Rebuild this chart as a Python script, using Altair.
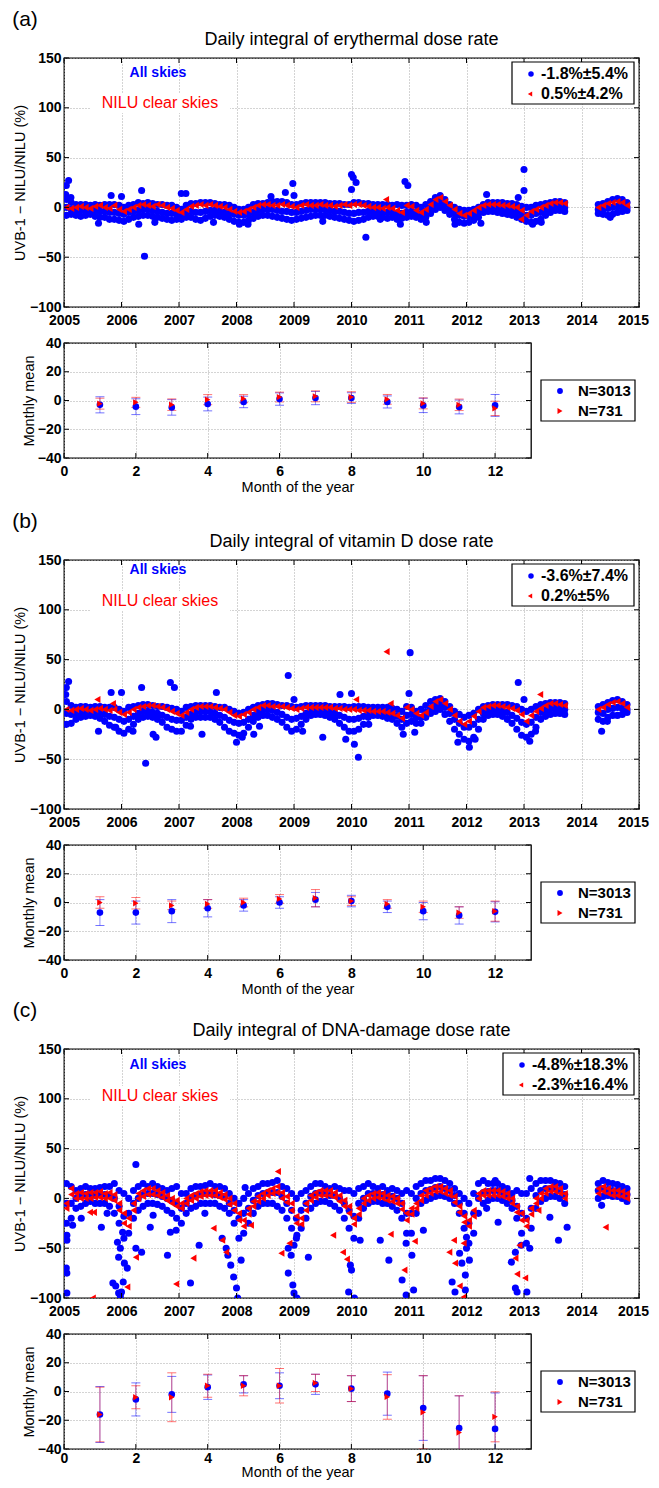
import altair as alt
import pandas as pd

FONT = "Liberation Sans"
BLUE = "#0000ff"
RED = "#ff0000"

YEAR_TICKS = list(range(2005, 2016))
MAIN_Y_TICKS = [-100, -50, 0, 50, 100, 150]
MONTH_TICKS = [0, 2, 4, 6, 8, 10, 12]
MON_Y_TICKS = [-40, -20, 0, 20, 40]
MONTHS = list(range(1, 13))

# monthly sample dates: Jan 2005 - Sep 2013, Apr 2014 - Oct 2014
SAMPLE_MONTHS = [(y, m) for y in range(2005, 2014) for m in range(1, 13)
                 if not (y == 2013 and m > 9)] + [(2014, m) for m in range(4, 11)]
DATES = [y + (m - 0.5) / 12 for y, m in SAMPLE_MONTHS]

# ---------------- panel (a) erythemal ----------------
A_BLUE_HI = [8, 5, 3, 3, 3, 2, 3, 2, 3, 3, 3, 2,
             0, 2, 3, 5, 4, 5, 4, 3, 3, 2, 2, 0,
             -2, 2, 4, 4, 5, 5, 5, 4, 3, 3, 2, 0,
             -2, -2, 0, 3, 4, 4, 5, 6, 6, 6, 5, 3,
             3, 4, 5, 5, 5, 5, 5, 4, 4, 4, 3, 3,
             5, 5, 4, 4, 3, 3, 3, 3, 2, 3, 2, 2,
             3, 2, 0, 3, 6, 10, 12, 8, 3, 0, -2, -3,
             -3, -2, 0, 3, 5, 5, 5, 5, 4, 4, 3, 1,
             0, 0, 2, 3, 4, 5, 6, 6, 5,
             3, 4, 6, 8, 9, 8, 5]
A_BLUE_MID = [0, -2, -3, -3, -3, -3, -3, -4, -4, -5, -5, -6,
              -7, -5, -4, -3, -2, -2, -3, -4, -5, -6, -6, -7,
              -7, -5, -4, -5, -5, -4, -3, -3, -4, -5, -6, -7,
              -8, -8, -7, -5, -3, -2, -2, -2, -3, -4, -4, -5,
              -5, -4, -3, -2, -2, -2, -2, -3, -4, -4, -5, -6,
              -6, -5, -5, -4, -4, -4, -5, -5, -5, -6, -6, -5,
              -4, -5, -7, -4, 0, 4, 6, 3, -2, -6, -8, -9,
              -9, -8, -5, -2, -1, 0, 0, -1, -2, -3, -4, -6,
              -8, -8, -6, -5, -3, -1, 0, 1, 0,
              -2, -2, -1, 0, 1, 1, 0]
A_BLUE_LO = [-8, -7, -8, -9, -8, -7, -9, -10, -10, -12, -12, -13,
             -14, -12, -10, -9, -8, -8, -9, -10, -11, -12, -13, -12,
             -12, -10, -10, -12, -13, -11, -9, -8, -9, -10, -12, -14,
             -15, -15, -13, -11, -9, -8, -8, -9, -10, -11, -12, -13,
             -12, -11, -10, -9, -8, -8, -8, -9, -10, -11, -12, -13,
             -14, -13, -12, -10, -9, -9, -10, -11, -10, -12, -11, -10,
             -9, -10, -12, -10, -6, -2, 0, -3, -7, -12, -15, -16,
             -15, -13, -10, -5, -4, -4, -5, -6, -7, -8, -10, -12,
             -14, -15, -14, -12, -8, -5, -3, -3, -4,
             -6, -7, -8, -7, -5, -4, -3]
A_RED = [0, -1, 0, 1, 0, -1, 1, 2, 0, -1, 2, -2,
         -4, -2, 0, 2, 3, 2, 1, 3, 2, 0, -1, -3,
         -5, -2, 1, 2, 3, 2, 3, 2, 1, 0, -2, -4,
         -5, -4, -2, 0, 2, 3, 3, 2, 2, 3, 2, 1,
         0, 2, 3, 2, 2, 3, 2, 2, 1, 2, 3, 2,
         3, 3, 2, 1, 0, 0, -1, 0, -1, -3, -5, 2,
         1, -3, -5, -2, 3, 8, 10, 6, 2, -2, -6, -8,
         -6, -3, 0, 2, 3, 3, 3, 2, 2, 1, 0, -3,
         -8, -4, -2, 0, 2, 4, 5, 5, 4,
         0, 2, 4, 5, 6, 5, 2]
A_BLUE_OUT = [(2005.04, 22), (2005.08, 27), (2005.03, 13), (2005.12, 10), (2005.6, -16),
              (2005.82, 12), (2006.0, 11), (2006.35, 17), (2006.4, -49), (2006.3, -17),
              (2006.58, -15), (2007.04, 14), (2007.12, 14), (2007.6, -15), (2008.05, -17),
              (2008.2, -17), (2008.6, 11), (2008.85, 15), (2008.98, 24), (2009.0, 12),
              (2009.5, -14), (2010.0, 33), (2010.03, 30), (2010.08, 25), (2010.0, 18),
              (2010.25, -30), (2010.5, -12), (2010.85, -17), (2010.93, 26), (2010.98, 22),
              (2011.3, -15), (2011.8, -17), (2012.25, -16), (2012.35, 13), (2012.9, 10),
              (2013.0, 38), (2013.0, 17), (2013.15, -17), (2013.3, -15), (2014.5, -10)]
A_RED_OUT = [(2010.6, 8), (2012.95, -12)]
A_MON_B = [-3, -4.3, -4.8, -2.4, -1, 1, 1.7, 1.7, -1, -3.4, -4.5, -3.4]
A_MON_B_ERR = [5.6, 5.5, 5.4, 4.8, 4, 4.3, 4.6, 3.7, 4.2, 5, 4.8, 7.6]
A_MON_R = [-2.2, -1.3, -2.9, 0.6, 1.3, 2.4, 2.9, 2.4, 0.8, -2, -3, -5.5]
A_MON_R_ERR = [3.8, 3.5, 4, 3.5, 2.8, 3.4, 3.8, 3.7, 3.4, 3.8, 4, 5]

# ---------------- panel (b) vitamin D ----------------
B_BLUE_HI = [8, 4, 2, 3, 3, 2, 3, 3, 2, 2, 2, 0,
             -2, 2, 3, 4, 5, 5, 4, 3, 3, 2, 1, 0,
             -2, 2, 3, 4, 4, 4, 4, 3, 2, 2, 0, -2,
             -4, -3, 0, 2, 4, 5, 6, 6, 5, 4, 4, 3,
             2, 3, 4, 4, 4, 4, 4, 3, 3, 3, 3, 2,
             3, 3, 3, 2, 2, 2, 2, 2, 1, 0, -2, 3,
             2, -2, 0, 4, 8, 10, 11, 8, 3, -2, -5, -8,
             -6, -4, 0, 3, 4, 5, 5, 5, 5, 4, 3, 0,
             -2, 0, 3, 5, 6, 7, 7, 7, 6,
             3, 5, 7, 9, 10, 8, 5]
B_BLUE_MID = [-4, -5, -4, -3, -2, -2, -2, -3, -5, -7, -8, -10,
              -12, -10, -7, -4, -2, -2, -3, -4, -6, -8, -10, -11,
              -11, -8, -5, -3, -2, -2, -2, -4, -6, -8, -11, -13,
              -14, -13, -10, -6, -3, -1, 0, -1, -3, -5, -8, -10,
              -9, -7, -4, -2, -1, -1, -2, -3, -4, -6, -8, -10,
              -10, -9, -7, -4, -3, -3, -3, -4, -5, -7, -10, -6,
              -5, -8, -8, -3, 1, 4, 5, 2, -4, -10, -14, -18,
              -18, -15, -10, -4, -1, 0, 0, -1, -3, -6, -9, -13,
              -15, -13, -8, -3, -1, 1, 1, 1, 0,
              -3, -4, 0, 1, 2, 1, 0]
B_BLUE_LO = [-15, -14, -10, -8, -7, -6, -7, -9, -12, -16, -18, -22,
             -24, -20, -15, -10, -8, -7, -8, -10, -13, -18, -20, -22,
             -22, -16, -10, -8, -8, -8, -8, -10, -13, -18, -22, -24,
             -26, -24, -18, -12, -8, -6, -6, -8, -10, -13, -18, -22,
             -20, -15, -10, -6, -5, -5, -6, -8, -10, -14, -18, -22,
             -22, -20, -15, -8, -6, -6, -7, -9, -10, -14, -18, -14,
             -12, -14, -14, -8, -4, -2, 0, -5, -12, -20, -25, -30,
             -32, -28, -20, -10, -6, -5, -5, -7, -10, -14, -20, -26,
             -28, -25, -18, -10, -7, -5, -4, -4, -5,
             -10, -12, -8, -6, -6, -5, -3]
B_RED = [0, -1, 0, 1, 0, -1, 0, 1, 0, -1, 0, -3,
         -5, -3, 0, 2, 3, 4, 4, 3, 2, 0, -2, -4,
         -6, -3, 0, 2, 3, 3, 3, 2, 1, 0, -3, -6,
         -7, -5, -3, 0, 2, 4, 4, 3, 3, 3, 2, 1,
         0, 1, 2, 2, 2, 2, 2, 2, 1, 1, 0, 0,
         0, -1, -1, -1, -2, -2, -2, -3, -4, -6, -9, 2,
         0, -4, -6, -3, 3, 8, 10, 6, 0, -6, -12, -15,
         -12, -7, -2, 2, 3, 4, 4, 3, 2, 1, -1, -5,
         -12, -6, -2, 1, 4, 6, 6, 5, 4,
         0, 2, 5, 7, 8, 6, 2]
B_BLUE_OUT = [(2005.04, 22), (2005.08, 28), (2005.03, 15), (2005.6, -22), (2005.82, 17),
              (2005.9, -18), (2006.0, 17), (2006.2, -22), (2006.35, 22), (2006.42, -54),
              (2006.6, -28), (2006.55, -25), (2006.85, 27), (2006.92, 22), (2007.2, -17),
              (2007.65, 17), (2007.4, -25), (2008.0, -33), (2008.1, -28), (2008.3, -25),
              (2008.4, -17), (2008.9, 34), (2009.0, 10), (2009.15, -22), (2009.5, -28),
              (2009.8, 15), (2010.0, 16), (2010.05, -35), (2010.12, -48), (2009.9, -30),
              (2010.3, -15), (2010.9, -25), (2011.02, 57), (2011.0, 16), (2011.1, -23),
              (2011.85, -33), (2012.05, -38), (2012.15, -30), (2012.9, 27), (2013.0, 10),
              (2013.1, -32), (2013.2, -22), (2014.35, -22), (2014.45, -12)]
B_RED_OUT = [(2005.58, 10), (2005.85, 6), (2010.08, 10), (2010.61, 58), (2010.68, 6),
             (2013.28, 15)]
B_MON_B = [-7, -7, -6, -4, -2, 0, 2, 1, -3, -6, -9, -6.5]
B_MON_B_ERR = [9, 8, 8, 6, 4, 4, 5, 4, 4, 6, 6, 7]
B_MON_R = [0, -0.5, -2, -1, 0, 2.5, 3, 1, -1, -3, -7, -6]
B_MON_R_ERR = [4, 4, 3, 3, 3, 3, 6, 3, 3, 4, 4, 7]

# ---------------- panel (c) DNA damage ----------------
C_BLUE_HI = [15, 12, 8, 10, 12, 10, 10, 11, 12, 12, 15, 8,
             5, 0, 8, 12, 15, 12, 15, 12, 10, 8, 10, 12,
             5, 5, 10, 12, 12, 13, 15, 12, 12, 10, 5, 0,
             -5, 0, 5, 10, 12, 15, 15, 16, 18, 12, 10, 5,
             0, 5, 8, 12, 15, 15, 12, 10, 12, 10, 8, 8,
             5, 10, 12, 15, 12, 10, 12, 8, 10, 8, 5, 8,
             5, 12, 15, 18, 18, 20, 20, 18, 15, 10, 5, 0,
             -5, 5, 15, 18, 15, 15, 15, 12, 10, 5, 8, 5,
             5, 10, 15, 18, 18, 18, 16, 15, 12,
             15, 18, 16, 15, 14, 12, 10]
C_BLUE_MID = [-5, -5, 0, 2, 4, 4, 3, 4, 4, 3, 0, -8,
              -18, -15, -5, 0, 4, 5, 5, 4, 2, 0, -2, -5,
              -10, -5, 0, 3, 4, 5, 5, 4, 3, 2, -5, -12,
              -20, -15, -10, -2, 3, 5, 6, 6, 6, 2, -5, -12,
              -20, -12, -5, 2, 5, 6, 5, 3, 3, 0, -5, -12,
              -18, -5, 0, 5, 5, 4, 4, 2, 2, 0, -5, -15,
              -15, 0, 5, 8, 9, 11, 12, 10, 8, 3, -5, -15,
              -25, -15, 0, 6, 7, 8, 8, 6, 3, -2, -8, -15,
              -20, -10, 3, 8, 10, 10, 10, 8, 4,
              8, 10, 9, 8, 8, 6, 4]
C_BLUE_LO = [-25, -20, -10, -8, -5, -3, -5, -5, -5, -8, -15, -25,
             -40, -35, -20, -12, -8, -5, -5, -6, -8, -12, -15, -20,
             -25, -15, -10, -8, -5, -5, -5, -5, -8, -10, -15, -25,
             -40, -35, -25, -15, -8, -5, -5, -5, -8, -12, -20, -30,
             -40, -30, -20, -10, -5, -3, -3, -5, -8, -12, -20, -30,
             -40, -20, -10, -5, -3, -3, -5, -5, -8, -12, -20, -35,
             -35, -15, -5, -2, 0, 2, 3, 2, 0, -5, -15, -30,
             -45, -35, -15, -5, -2, 0, 0, -2, -5, -10, -20, -35,
             -45, -30, -10, -3, 0, 2, 2, 0, -5,
             0, 2, 3, 2, 2, 0, -3]
C_RED = [-5, 10, 5, 6, 5, 6, 6, 7, 5, 6, 4, -5,
         -15, -20, -5, 5, 8, 10, 10, 8, 6, 3, 0, -2,
         -5, 0, 3, 5, 7, 8, 8, 8, 6, 4, 0, -5,
         -15, -22, -10, -3, 2, 5, 8, 10, 12, 6, 2, -5,
         -18, -20, -5, 3, 6, 8, 8, 8, 6, 3, -2, -8,
         -20, -10, 0, 3, 5, 6, 5, 3, 2, 0, -5, -15,
         -10, -5, 3, 8, 10, 12, 12, 10, 8, 2, -8, -18,
         -22, -12, 5, 8, 8, 8, 8, 7, 5, 0, -8, -15,
         -22, -10, 0, 5, 10, 12, 12, 10, 5,
         10, 12, 10, 8, 8, 7, 5]
C_RED2 = [-10, 4, 0, 0, 0, 0, 1, 1, 0, 0, -2, -12,
          -25, -28, -12, 0, 2, 4, 4, 3, 1, -2, -5, -8,
          -10, -5, -2, 0, 2, 3, 3, 3, 1, -1, -6, -12,
          -22, -28, -16, -8, -3, 0, 3, 5, 6, 0, -4, -12,
          -25, -26, -12, -2, 1, 3, 3, 3, 1, -3, -8, -15,
          -26, -16, -5, -2, 0, 1, 0, -2, -3, -5, -11, -22,
          -16, -10, -2, 3, 5, 7, 7, 5, 3, -4, -14, -24,
          -28, -18, 0, 3, 3, 3, 3, 2, 0, -5, -14, -22,
          -28, -16, -5, 0, 5, 7, 7, 5, 0,
          5, 7, 5, 3, 3, 2, 0]
C_BLUE_OUT = [(2005.05, -37), (2005.05, -42), (2005.04, -70), (2005.05, -75), (2005.05, -95),
              (2005.15, -27), (2005.3, -20), (2005.65, -29), (2005.75, -15), (2005.85, -85),
              (2005.9, -88), (2005.95, -95), (2005.93, -44), (2005.95, -59), (2005.98, -50),
              (2006.02, -34), (2006.05, -65), (2006.1, -70), (2006.0, -94), (2006.03, -84),
              (2005.98, -98), (2006.25, -50), (2006.35, -54), (2006.25, 34), (2006.5, -29),
              (2006.55, -17), (2006.8, -57), (2006.85, -34), (2006.95, -32), (2007.2, -85),
              (2007.35, -47), (2007.45, -15), (2007.75, -40), (2007.82, -50), (2007.85, -57),
              (2007.9, -67), (2007.95, -79), (2008.0, -90), (2008.02, -100), (2008.08, -62),
              (2008.15, 11), (2008.9, -50), (2008.95, -57), (2008.9, -75), (2008.98, -87),
              (2009.0, -95), (2009.05, -100), (2009.0, -47), (2009.05, -37), (2009.25, -59),
              (2009.95, -94), (2010.05, -100), (2009.98, -67), (2010.0, -72), (2010.15, -42),
              (2010.5, -42), (2010.65, -62), (2010.88, -82), (2010.95, -97), (2010.95, -45),
              (2011.05, -57), (2011.08, -92), (2011.25, -32), (2011.75, -84), (2011.8, -94),
              (2011.88, -55), (2011.92, -65), (2011.98, -77), (2012.0, -50), (2012.05, -62),
              (2012.0, -39), (2011.98, -92), (2012.35, -10), (2012.55, -24), (2012.5, 18),
              (2012.78, -64), (2012.85, -54), (2012.85, -90), (2012.88, -94), (2012.95, -47),
              (2013.05, -94), (2013.1, -50), (2013.1, 20), (2013.45, -19), (2013.6, -42),
              (2013.75, -29), (2014.35, -7)]
C_RED_OUT = [(2005.5, -100), (2005.45, -14), (2005.52, -14), (2006.1, -89), (2006.25, -59),
             (2006.95, -86), (2007.25, -60), (2007.6, -30), (2007.75, -42), (2007.82, -54),
             (2008.25, -27), (2008.72, 27), (2008.78, -55), (2008.92, -45), (2009.68, -37),
             (2009.85, -54), (2009.92, -61), (2010.68, -36), (2010.92, -72), (2011.1, -43),
             (2011.7, -54), (2011.78, -42), (2011.8, -65), (2011.88, -88), (2011.95, -99),
             (2011.95, -45), (2012.85, -60), (2012.88, -76), (2013.02, -80), (2012.92, -47),
             (2013.25, -12), (2014.42, -29)]
C_MON_B = [-16, -5.5, -2, 3, 5, 4, 5, 2, -1.5, -11.5, -25.5, -26]
C_MON_B_ERR = [19.5, 11.5, 12.5, 8.5, 6, 9, 7, 9, 15, 22.5, 22.5, 25]
C_MON_R = [-16, -4, -4, 4, 4, 4, 6, 2, -3.8, -14.5, -28.5, -17.6]
C_MON_R_ERR = [19, 8, 17, 8, 7, 12, 6, 9, 15.5, 25.5, 25.5, 17.4]

MW, MH = 575, 249
SW, SH = 467, 115
ONE = pd.DataFrame({"k": [0]})


def txt(text, x, y, size, weight="normal", color="black", align="center", baseline="middle"):
    return alt.Chart(ONE).mark_text(text=text, font=FONT, fontSize=size, fontWeight=weight,
                                    color=color, align=align, baseline=baseline).encode(
        x=alt.value(x), y=alt.value(y))


def main_panel(letter, title, blue_rows, red_rows, blue_out, red_out, leg_txt, leg_x0,
               all_y, nilu_y):
    for r in blue_rows + red_rows:
        assert len(r) == len(DATES), len(r)
    brec = [{"t": t, "v": v} for row in blue_rows for t, v in zip(DATES, row)]
    brec += [{"t": t, "v": v} for t, v in blue_out]
    rrec = [{"t": t, "v": v} for row in red_rows for t, v in zip(DATES, row)]
    rrec += [{"t": t, "v": v} for t, v in red_out]
    xax = alt.Axis(values=YEAR_TICKS, format="d", title=None, labelPadding=6,
                   labelOffset={"condition": {"test": "datum.value == 2015", "value": -6},
                                "value": 0})
    yax = alt.Axis(values=MAIN_Y_TICKS, title="UVB-1 \u2212 NILU/NILU (%)", labelPadding=3,
                   titlePadding=1.5)
    X = alt.X("t:Q", scale=alt.Scale(domain=[2005, 2015], nice=False, zero=False), axis=xax)
    Y = alt.Y("v:Q", scale=alt.Scale(domain=[-100, 150], nice=False, zero=False), axis=yax)

    blue = alt.Chart(pd.DataFrame(brec)).mark_point(
        shape="circle", filled=True, size=50, color=BLUE, opacity=1, clip=True).encode(x=X, y=Y)
    red = alt.Chart(pd.DataFrame(rrec)).mark_point(
        shape="triangle-left", filled=True, size=50, color=RED, opacity=1, clip=True).encode(x=X, y=Y)

    xt = pd.DataFrame({"t": YEAR_TICKS})
    yt = pd.DataFrame({"v": MAIN_Y_TICKS})
    tk = dict(color="black", strokeWidth=1)
    tb = alt.Chart(xt).mark_rule(**tk).encode(x=X, y=alt.value(MH), y2=alt.value(MH - 5))
    tt = alt.Chart(xt).mark_rule(**tk).encode(x=X, y=alt.value(0), y2=alt.value(5))
    tl = alt.Chart(yt).mark_rule(**tk).encode(y=Y, x=alt.value(0), x2=alt.value(5))
    tr = alt.Chart(yt).mark_rule(**tk).encode(y=Y, x=alt.value(MW), x2=alt.value(MW - 5))

    box = alt.Chart(ONE).mark_rect(fill="white", stroke="black", strokeWidth=1.2).encode(
        x=alt.value(leg_x0), x2=alt.value(570), y=alt.value(4), y2=alt.value(46))
    sb = alt.Chart(ONE).mark_point(shape="circle", filled=True, size=30, color=BLUE,
                                   opacity=1).encode(x=alt.value(leg_x0 + 19), y=alt.value(16))
    sr = alt.Chart(ONE).mark_point(shape="triangle-left", filled=True, size=26, color=RED,
                                   opacity=1).encode(x=alt.value(leg_x0 + 18), y=alt.value(36))
    t1 = txt(leg_txt[0], leg_x0 + 29, 16, 16, "bold", align="left")
    t2 = txt(leg_txt[1], leg_x0 + 29, 36, 16, "bold", align="left")

    wbg = alt.Chart(ONE).mark_rect(fill="white").encode(
        x=alt.value(26), x2=alt.value(166), y=alt.value(nilu_y - 10), y2=alt.value(nilu_y + 10))
    ta = txt("All skies", 94, all_y, 14, "bold", BLUE)
    tn = txt("NILU clear skies", 96, nilu_y, 16, "normal", RED)
    ttl = txt(title, MW / 2, -13, 18, baseline="alphabetic")
    tlet = txt(letter, -39, -32, 21, baseline="alphabetic")

    return alt.layer(blue, red, tb, tt, tl, tr, box, sb, sr, t1, t2, wbg, ta, tn, ttl,
                     tlet).properties(width=MW, height=MH)


def monthly_panel(mb, mbe, mr, mre, lab_pad=6, title_pad=2):
    dfb = pd.DataFrame({"m": MONTHS, "mean": mb,
                        "lo": [a - e for a, e in zip(mb, mbe)],
                        "hi": [a + e for a, e in zip(mb, mbe)]})
    dfr = pd.DataFrame({"m": MONTHS, "mean": mr,
                        "lo": [a - e for a, e in zip(mr, mre)],
                        "hi": [a + e for a, e in zip(mr, mre)]})
    xax = alt.Axis(values=MONTH_TICKS, format="d", title="Month of the year",
                   labelPadding=lab_pad, titlePadding=title_pad)
    yax = alt.Axis(values=MON_Y_TICKS, title="Monthly mean", labelPadding=3, titlePadding=1)
    X = alt.X("m:Q", scale=alt.Scale(domain=[0, 13], nice=False, zero=False), axis=xax)
    ysc = alt.Scale(domain=[-40, 40], nice=False, zero=False)

    def Y(f):
        return alt.Y(f + ":Q", scale=ysc, axis=yax)

    layers = []
    for df, col in ((dfb, BLUE), (dfr, RED)):
        layers.append(alt.Chart(df).mark_rule(color=col, opacity=0.45, strokeWidth=1,
                                              clip=True).encode(x=X, y=Y("lo"), y2="hi:Q"))
        for f in ("lo", "hi"):
            layers.append(alt.Chart(df).mark_tick(orient="horizontal", size=9, thickness=1,
                                                  color=col, opacity=0.55, clip=True).encode(
                x=X, y=Y(f)))
    layers.append(alt.Chart(dfb).mark_point(shape="circle", filled=True, size=44, color=BLUE,
                                            opacity=1, clip=True).encode(x=X, y=Y("mean")))
    layers.append(alt.Chart(dfr).mark_point(shape="triangle-right", filled=True, size=40,
                                            color=RED, opacity=1, clip=True).encode(
        x=X, y=Y("mean")))

    xt = pd.DataFrame({"m": MONTH_TICKS})
    yt = pd.DataFrame({"mean": MON_Y_TICKS})
    tk = dict(color="black", strokeWidth=1)
    layers += [
        alt.Chart(xt).mark_rule(**tk).encode(x=X, y=alt.value(SH), y2=alt.value(SH - 5)),
        alt.Chart(xt).mark_rule(**tk).encode(x=X, y=alt.value(0), y2=alt.value(5)),
        alt.Chart(yt).mark_rule(**tk).encode(y=Y("mean"), x=alt.value(0), x2=alt.value(5)),
        alt.Chart(yt).mark_rule(**tk).encode(y=Y("mean"), x=alt.value(SW), x2=alt.value(SW - 5)),
    ]
    layers += [
        alt.Chart(ONE).mark_rect(fill="white", stroke="black", strokeWidth=1.2).encode(
            x=alt.value(477), x2=alt.value(571), y=alt.value(37), y2=alt.value(78)),
        alt.Chart(ONE).mark_point(shape="circle", filled=True, size=34, color=BLUE,
                                  opacity=1).encode(x=alt.value(496), y=alt.value(48)),
        alt.Chart(ONE).mark_point(shape="triangle-right", filled=True, size=34, color=RED,
                                  opacity=1).encode(x=alt.value(496), y=alt.value(68)),
        txt("N=3013", 514, 48, 15, "bold", align="left"),
        txt("N=731", 514, 68, 15, "bold", align="left"),
    ]
    return alt.layer(*layers).properties(width=SW, height=SH)


def spacer(h):
    return alt.Chart(ONE).mark_point(opacity=0).encode(
        x=alt.value(0), y=alt.value(0)).properties(
        width=MW, height=h, view=alt.ViewBackground(stroke="transparent"))


main_a = main_panel("(a)", "Daily integral of erythermal dose rate",
                    [A_BLUE_HI, A_BLUE_MID, A_BLUE_LO], [A_RED], A_BLUE_OUT, A_RED_OUT,
                    ["-1.8%\u00b15.4%", "0.5%\u00b14.2%"], 448, 15, 45)
mon_a = monthly_panel(A_MON_B, A_MON_B_ERR, A_MON_R, A_MON_R_ERR)
main_b = main_panel("(b)", "Daily integral of  vitamin D dose rate",
                    [B_BLUE_HI, B_BLUE_MID, B_BLUE_LO], [B_RED], B_BLUE_OUT, B_RED_OUT,
                    ["-3.6%\u00b17.4%", "0.2%\u00b15%"], 448, 10, 41)
mon_b = monthly_panel(B_MON_B, B_MON_B_ERR, B_MON_R, B_MON_R_ERR)
main_c = main_panel("(c)", "Daily integral of DNA-damage dose rate",
                    [C_BLUE_HI, C_BLUE_MID, C_BLUE_LO], [C_RED, C_RED2], C_BLUE_OUT, C_RED_OUT,
                    ["-4.8%\u00b118.3%", "-2.3%\u00b116.4%"], 439, 16, 47)
mon_c = monthly_panel(C_MON_B, C_MON_B_ERR, C_MON_R, C_MON_R_ERR, lab_pad=2, title_pad=0)

chart = alt.vconcat(main_a, mon_a, spacer(30), main_b, mon_b, spacer(17), main_c, mon_c,
                    spacing=36, bounds="flush").properties(
    padding={"left": 3, "top": 0, "right": 0, "bottom": 0}
).configure_view(stroke="black", strokeWidth=1.3).configure_axis(
    labelFont=FONT, titleFont=FONT, labelColor="black", titleColor="black",
    labelFontSize=14, labelFontWeight="bold", titleFontSize=14.5, titleFontWeight="normal",
    gridColor="#a8a8a8", gridDash=[1, 2], gridWidth=1, ticks=False, domain=False,
    labelFlush=False, labelOverlap=False
)

chart.save("out.html", embed_options={"renderer": "svg", "actions": False})
